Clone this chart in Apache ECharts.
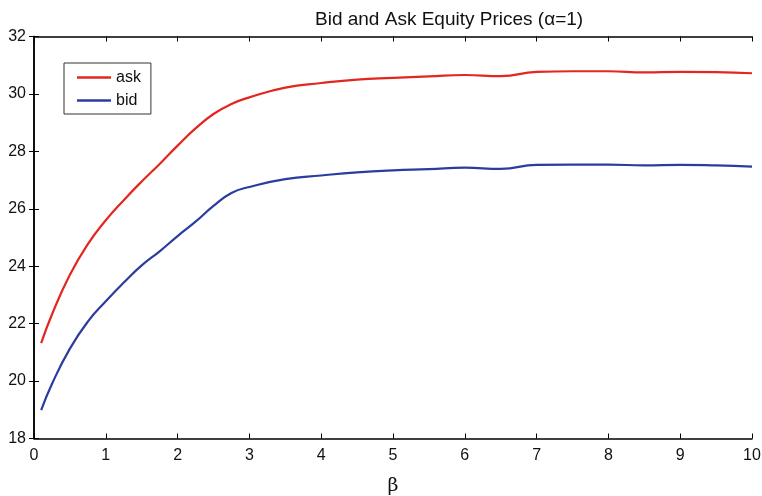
<!DOCTYPE html>
<html>
<head>
<meta charset="utf-8">
<script src="https://cdn.jsdelivr.net/npm/echarts@6/dist/echarts.min.js"></script>
<style>html,body{margin:0;padding:0;background:#fff}#c{width:762px;height:496px}</style>
</head>
<body>
<div id="c"></div>
<script>
const beta = [0.1, 0.25, 0.5, 0.75, 1, 1.25, 1.5, 1.75, 2, 2.25, 2.5, 2.75, 3, 3.5, 4, 4.5, 5, 5.5, 6, 6.5, 7, 7.5, 8, 8.5, 9, 9.5, 10];
const ask = [21.32, 22.32, 23.7, 24.77, 25.6, 26.3, 26.95, 27.56, 28.2, 28.8, 29.3, 29.65, 29.88, 30.22, 30.38, 30.5, 30.56, 30.61, 30.66, 30.62, 30.77, 30.79, 30.79, 30.75, 30.77, 30.76, 30.72];
const bid = [18.99, 19.9, 21.13, 22.07, 22.78, 23.43, 24.03, 24.52, 25.05, 25.55, 26.1, 26.55, 26.76, 27.03, 27.16, 27.27, 27.34, 27.38, 27.43, 27.39, 27.53, 27.54, 27.54, 27.51, 27.53, 27.51, 27.47];
const seriesNames = ['ask', 'bid'];
const titleText = 'Bid and Ask Equity Prices (\u03b1=1)';
const xName = '\u03b2';

const chart = echarts.init(document.getElementById('c'));
const font = 'Liberation Sans, Arial, Helvetica, sans-serif';
const axisLine = {show: true, lineStyle: {color: '#000', width: 1.5}};
const tick = {show: true, inside: true, length: 5, lineStyle: {color: '#000', width: 1}};
chart.setOption({
  animation: false,
  backgroundColor: '#fff',
  title: {
    text: titleText, left: 310, top: 5,
    textStyle: {fontFamily: font, fontSize: 19, fontWeight: 'normal', color: '#111'}
  },
  legend: {
    orient: 'vertical', left: 64, top: 63,
    padding: [6, 10, 5, 13],
    borderColor: '#333', borderWidth: 1, backgroundColor: '#fff',
    itemWidth: 34, itemHeight: 2.5, itemGap: 6,
    icon: 'rect',
    textStyle: {fontFamily: font, fontSize: 16, color: '#111', lineHeight: 17},
    data: seriesNames
  },
  grid: {left: 34, right: 10, top: 36.5, bottom: 57.5, containLabel: false, outerBoundsMode: 'none'},
  xAxis: [{
    type: 'value', min: 0, max: 10, interval: 1,
    axisLine: axisLine, axisTick: tick, splitLine: {show: false},
    axisLabel: {fontFamily: font, fontSize: 16, color: '#111', margin: 9},
    name: xName, nameLocation: 'middle', nameGap: 38,
    nameTextStyle: {fontFamily: 'DejaVu Serif, serif', fontSize: 19, color: '#111'}
  }, {
    type: 'value', position: 'top', min: 0, max: 10, interval: 1,
    axisLine: axisLine, axisTick: tick, splitLine: {show: false},
    axisLabel: {show: false}
  }],
  yAxis: [{
    type: 'value', min: 18, max: 32, interval: 2,
    axisLine: axisLine, axisTick: tick, splitLine: {show: false},
    axisLabel: {fontFamily: font, fontSize: 16, color: '#111', margin: 8}
  }, {
    type: 'value', position: 'right', min: 18, max: 32, interval: 2,
    axisLine: axisLine, axisTick: tick, splitLine: {show: false},
    axisLabel: {show: false}
  }],
  series: [{
    name: seriesNames[0], type: 'line', smooth: 0.5, showSymbol: false,
    data: beta.map((b, i) => [b, ask[i]]),
    lineStyle: {color: '#e3261e', width: 2.2}, itemStyle: {color: '#e3261e'}
  }, {
    name: seriesNames[1], type: 'line', smooth: 0.5, showSymbol: false,
    data: beta.map((b, i) => [b, bid[i]]),
    lineStyle: {color: '#2b3c9f', width: 2.2}, itemStyle: {color: '#2b3c9f'}
  }]
});
</script>
</body>
</html>
